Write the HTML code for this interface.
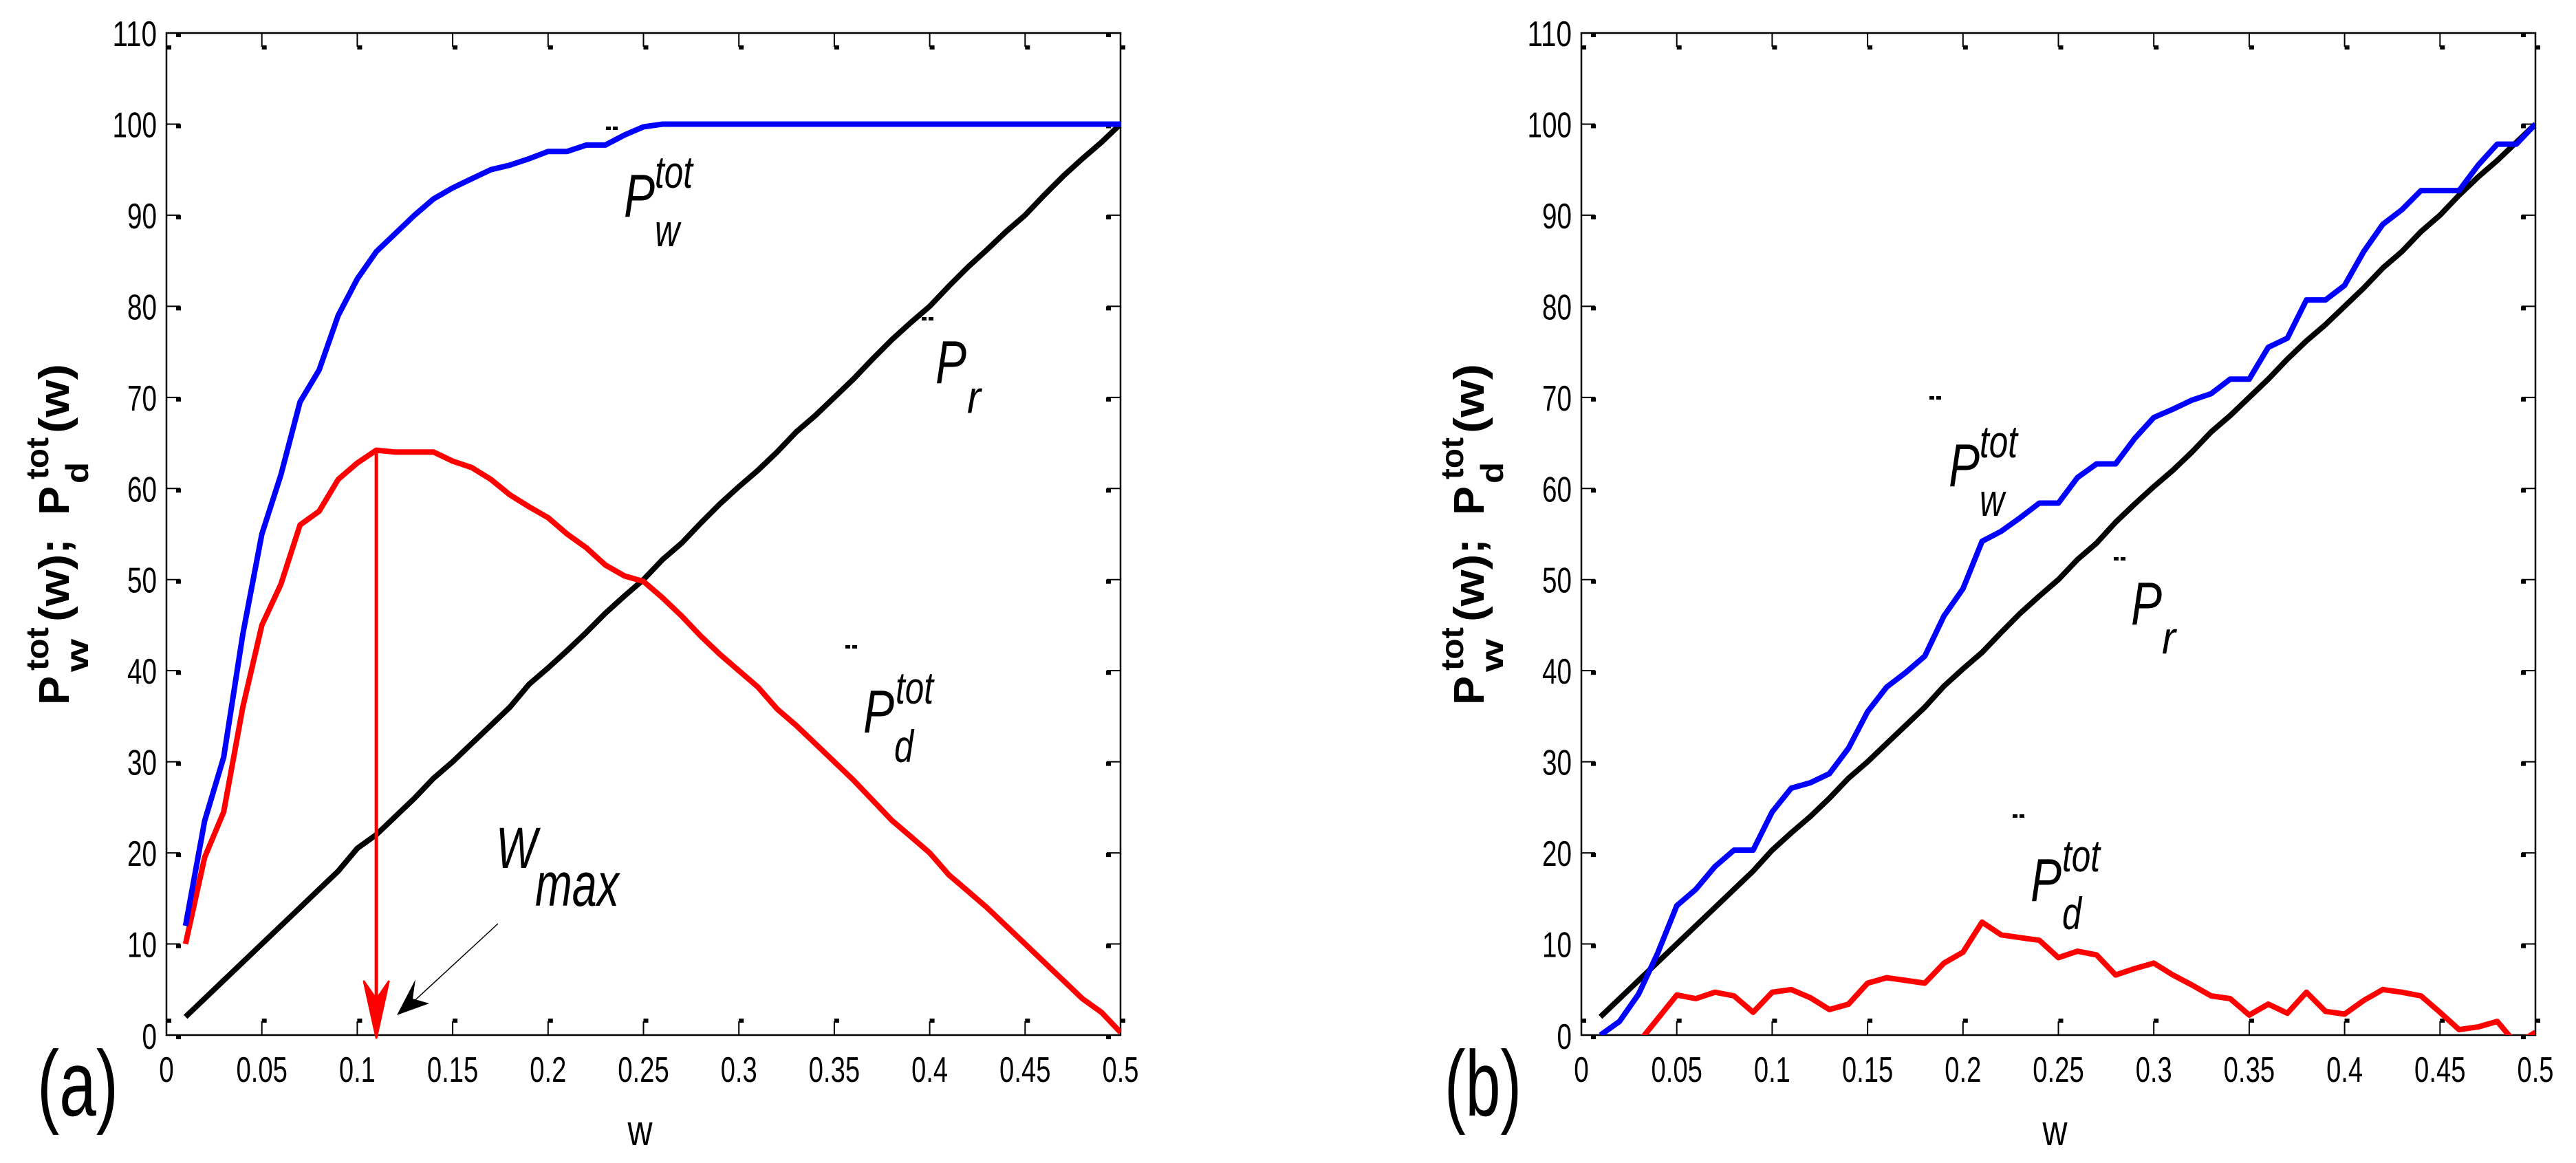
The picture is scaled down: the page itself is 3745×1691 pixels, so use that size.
<!DOCTYPE html>
<html>
<head>
<meta charset="utf-8">
<style>
html,body{margin:0;padding:0;background:#fff;}
svg{display:block;}
text{font-family:"Liberation Sans",sans-serif;fill:#000;}
.it{font-style:italic;}
.yt text{font-weight:bold;}
</style>
</head>
<body>
<svg id="fig" width="3745" height="1691" viewBox="0 0 3745 1691" xmlns="http://www.w3.org/2000/svg">
<rect width="3745" height="1691" fill="#fff"/>
<defs>
<clipPath id="clipA"><rect x="242" y="48" width="1387" height="1457"/></clipPath>
<clipPath id="clipB"><rect x="2299" y="48" width="1387" height="1457"/></clipPath>
</defs>
<g id="panelA"></g>
<g id="panelB"></g>
</svg>
<script>
// ---- data ----
const wValues = [0.01,0.02,0.03,0.04,0.05,0.06,0.07,0.08,0.09,0.10,0.11,0.12,0.13,0.14,0.15,0.16,0.17,0.18,0.19,0.20,0.21,0.22,0.23,0.24,0.25,0.26,0.27,0.28,0.29,0.30,0.31,0.32,0.33,0.34,0.35,0.36,0.37,0.38,0.39,0.40,0.41,0.42,0.43,0.44,0.45,0.46,0.47,0.48,0.49,0.50];
const xTickValues = [0,0.05,0.1,0.15,0.2,0.25,0.3,0.35,0.4,0.45,0.5];
const xTickLabels = ["0","0.05","0.1","0.15","0.2","0.25","0.3","0.35","0.4","0.45","0.5"];
const yTickValues = [0,10,20,30,40,50,60,70,80,90,100,110];
const yTickLabels = ["0","10","20","30","40","50","60","70","80","90","100","110"];

const aPw = [12,23.5,30.5,44,55,61.5,69.5,73,79,83,86,88,90,91.8,93,94,95,95.5,96.2,97,97,97.7,97.7,98.8,99.7,100,100,100,100,100,100,100,100,100,100,100,100,100,100,100,100,100,100,100,100,100,100,100,100,100];
const aPd = [10,19.5,24.5,36,45,49.5,56,57.5,61,62.8,64.2,64,64,64,63,62.3,61,59.3,58,56.8,55,53.5,51.6,50.4,49.8,48,46,43.8,41.8,40,38.2,35.8,34,32,30,28,25.8,23.6,21.8,20,17.6,15.8,14,12,10,8,6,4,2.5,0.3];
const aPr = [2,4,6,8,10,12,14,16,18,20.5,22,24,26,28.2,30,32,34,36,38.5,40.3,42.2,44.2,46.3,48.2,50,52.2,54,56.2,58.3,60.2,62,64,66.2,68,70,72,74.2,76.3,78.2,80,82.2,84.3,86.2,88.2,90,92.2,94.3,96.2,98,100];
const bPw = [0,1.5,4.5,9,14.2,16,18.5,20.3,20.3,24.5,27.1,27.7,28.7,31.5,35.5,38.2,39.8,41.6,46,49,54.2,55.3,56.8,58.4,58.4,61.2,62.7,62.7,65.5,67.8,68.7,69.7,70.4,72,72,75.5,76.5,80.7,80.7,82.3,86,89,90.6,92.7,92.7,92.7,95.5,97.8,97.8,100];
const bPd = [-5,-3,-0.8,1.8,4.4,4,4.7,4.3,2.5,4.7,5,4.1,2.8,3.4,5.7,6.3,6,5.7,7.9,9.1,12.4,11,10.7,10.4,8.5,9.2,8.8,6.6,7.3,7.9,6.6,5.5,4.3,4,2.2,3.4,2.4,4.7,2.6,2.3,3.8,5,4.7,4.3,2.5,0.6,0.9,1.5,-1,0.3];
const bPr = [2,4,6,8,10,12,14,16,18,20.3,22.2,24,26,28.2,30,32,34,36,38.3,40.2,42,44.2,46.3,48.2,50,52.2,54,56.3,58.3,60.2,62,64,66.2,68,70,72,74.2,76.2,78,80,82,84.2,86,88.2,90,92.2,94.2,96,98,100];
const wMax = 0.11;
const wMaxPeak = 64.2;

const NS = "http://www.w3.org/2000/svg";
function mk(tag, attrs, parent){
  const e = document.createElementNS(NS, tag);
  for (const k in attrs) e.setAttribute(k, attrs[k]);
  parent.appendChild(e);
  return e;
}
const Y0 = 1505, Y1 = 48;
function yS(v){ return Y0 - (v/110)*(Y0-Y1); }
function makeX(x0){ return v => x0 + (v/0.5)*1387; }
function tw(s){ let n=0; for(const c of s){ n += (c==='.')?10:21.5; } return n; }

function txt(parent, x, y, s, size, opts){
  opts = opts||{};
  const t = mk('text', {x:x, y:y, 'font-size':size}, parent);
  if (opts.anchor) t.setAttribute('text-anchor', opts.anchor);
  if (opts.cls) t.setAttribute('class', opts.cls);
  if (opts.len){ t.setAttribute('textLength', opts.len); t.setAttribute('lengthAdjust','spacingAndGlyphs'); }
  t.textContent = s;
  return t;
}

function panel(g, x0, clipId, pw, pd, pr, labels, letter){
  const xS = makeX(x0);
  const x1 = xS(0.5);
  const fr = mk('rect', {x:x0, y:Y1, width:x1-x0, height:Y0-Y1, fill:'none', stroke:'#000', 'stroke-width':2.5}, g);
  
  
  const tg = mk('g', {}, g);
  
  
  xTickValues.forEach((v,i)=>{
    const x = xS(v);
    mk('line',{x1:x,y1:Y0,x2:x,y2:Y0-20,stroke:'#000','stroke-width':2},tg);
    mk('rect',{x:x,y:Y0-24,width:7,height:6,fill:'#000'},tg);
    mk('line',{x1:x,y1:Y1,x2:x,y2:Y1+20,stroke:'#000','stroke-width':2},tg);
    mk('rect',{x:x,y:Y1+18,width:7,height:6,fill:'#000'},tg);
    const s = xTickLabels[i];
    const t = txt(tg, x, 1573, s, 52, {anchor:'middle', len:tw(s)});
    
    
  });
  const yg = mk('g', {}, g);
  
  
  yTickValues.forEach((v,i)=>{
    const y = yS(v);
    mk('line',{x1:x0,y1:y,x2:x0+20,y2:y,stroke:'#000','stroke-width':2},yg);
    mk('rect',{x:x0+14,y:y,width:7,height:6,fill:'#000'},yg);
    mk('line',{x1:x1,y1:y,x2:x1-20,y2:y,stroke:'#000','stroke-width':2},yg);
    mk('rect',{x:x1-21,y:y,width:7,height:6,fill:'#000'},yg);
    const s = yTickLabels[i];
    const t = txt(yg, x0-14, y+ (v===0?20:19), s, 52, {anchor:'end', len:tw(s)});
    
    
  });
  const sg = mk('g', {'clip-path':'url(#'+clipId+')'}, g);
  function line(vals, color, name){
    const d = vals.map((v,i)=>(i?'L':'M')+xS(wValues[i]).toFixed(1)+','+yS(v).toFixed(1)).join(' ');
    const p = mk('path',{d:d,fill:'none',stroke:color,'stroke-width':8,'stroke-linejoin':'round'},sg);
    
    
  }
  line(pr,'#000','series-pr');
  line(pd,'#ff0000','series-pd-tot');
  line(pw,'#0000ff','series-pw-tot');
  const xl = txt(g, (x0+x1)/2 - 5, 1665, 'w', 62, {anchor:'middle', len:36});
  
  
  const yl = mk('g',{transform:'translate('+(x0-142)+',1025) rotate(-90)', 'class':'yt'},g);
  
  
  txt(yl,0,0,'P',62,{len:42});
  txt(yl,50,-30,'tot',46,{len:63});
  txt(yl,48,28,'w',46,{len:48});
  txt(yl,121,0,'(w);',62,{len:121});
  txt(yl,276,0,'P',62,{len:42});
  txt(yl,328,-30,'tot',46,{len:61});
  txt(yl,322,28,'d',46,{len:31});
  txt(yl,395,0,'(w)',62,{len:101});
  const pl = txt(g, letter.x, 1622, letter.s, 135, {len:letter.len});
  
  
  labels.forEach(L=>{
    const lg = mk('g',{},g);
    
    
    txt(lg,L.px,L.py,'P',88,{cls:'it',len:45});
    if (L.sup) txt(lg,L.sx,L.sy,'tot',66,{cls:'it',len:55});
    txt(lg,L.bx,L.by,L.sub,66,{cls:'it',len:L.sub==='r'?20:(L.sub==='w'?36:28)});
    mk('rect',{x:L.dx,y:L.dy,width:7,height:5,fill:'#000'},lg);
    mk('rect',{x:L.dx+10,y:L.dy,width:7,height:5,fill:'#000'},lg);
  });
}

panel(document.getElementById('panelA'), 242, 'clipA', aPw, aPd, aPr, [
  {name:'label-pw-tot', px:907,py:315, sup:true, sx:952,sy:273, sub:'w', bx:952,by:358, dx:881,dy:184},
  {name:'label-pr', px:1360,py:557, sup:false, sub:'r', bx:1406,by:600, dx:1340,dy:461},
  {name:'label-pd-tot', px:1255,py:1065, sup:true, sx:1302,sy:1023, sub:'d', bx:1300,by:1108, dx:1229,dy:938}
], {x:54, s:'(a)', len:118});

panel(document.getElementById('panelB'), 2299, 'clipB', bPw, bPd, bPr, [
  {name:'label-pw-tot', px:2833,py:707, sup:true, sx:2878,sy:665, sub:'w', bx:2878,by:750, dx:2805,dy:576},
  {name:'label-pr', px:3098,py:908, sup:false, sub:'r', bx:3143,by:950, dx:3073,dy:810},
  {name:'label-pd-tot', px:2952,py:1310, sup:true, sx:2998,sy:1267, sub:'d', bx:2998,by:1351, dx:2926,dy:1184}
], {x:2100, s:'(b)', len:112});

(function(){
  const g = document.getElementById('panelA');
  const xS = makeX(242);
  const ag = mk('g',{},g);
  
  
  const xa = xS(wMax);
  mk('line',{x1:xa,y1:yS(wMaxPeak),x2:xa,y2:Y0-50,stroke:'#ff0000','stroke-width':5},ag);
  mk('path',{d:'M'+(xa-18)+','+(Y0-78)+' L'+xa+','+(Y0+4)+' L'+(xa+18)+','+(Y0-78)+' L'+xa+','+(Y0-52)+' Z',fill:'#ff0000',stroke:'#ff0000','stroke-width':3,'stroke-linejoin':'round'},ag);
  const pg = mk('g',{},g);
  
  
  mk('line',{x1:724,y1:1343,x2:595,y2:1462,stroke:'#000','stroke-width':1.5},pg);
  mk('path',{d:'M577,1476 L604,1424 L600,1452 L624,1459 Z',fill:'#000'},pg);
  const tg = mk('g',{},g);
  
  
  txt(tg,721,1262,'W',84,{cls:'it',len:60});
  txt(tg,778,1317,'max',90,{cls:'it',len:122});
})();
</script>
</body>
</html>
